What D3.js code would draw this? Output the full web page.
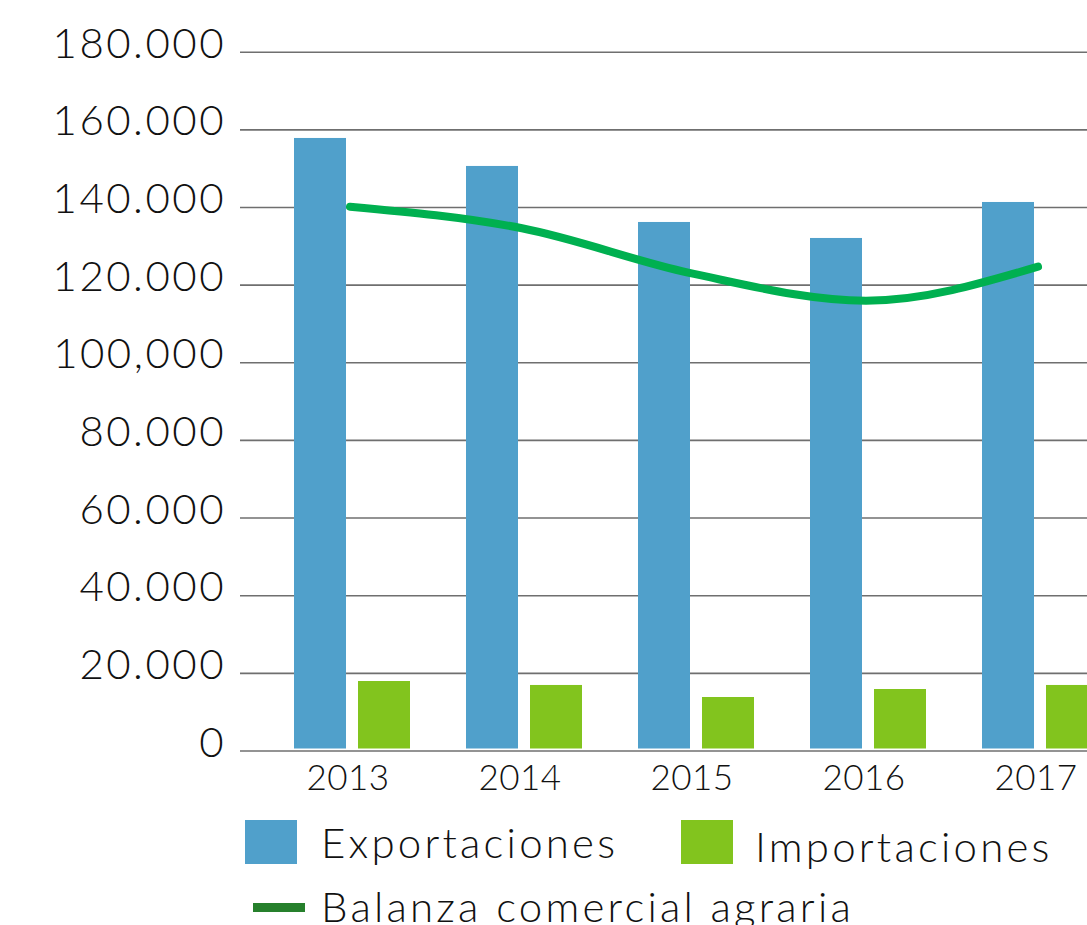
<!DOCTYPE html>
<html>
<head>
<meta charset="utf-8">
<script src="https://cdn.jsdelivr.net/npm/d3@7"></script>
<style>
  body { margin: 0; background: #fff; }
  svg { display: block; font-family: "Lato", "Open Sans", sans-serif; font-weight: 300; }
  .grid line { stroke: #6f6f6f; stroke-width: 1.6; }
  .grid text { fill: #111; font-size: 42px; letter-spacing: 2.5px; }
  .legend text { fill: #111; font-size: 42px; letter-spacing: 3.2px; }
</style>
</head>
<body>
<svg id="chart" width="1087" height="925"></svg>
<script>
let years = ["2013", "2014", "2015", "2016", "2017"];
let exportaciones = [157780, 150570, 136140, 132020, 141290];
let importaciones = [17900, 16880, 13780, 15840, 16880];
let balanza = [140080, 134520, 122750, 115870, 124630];
let tickValues = [0, 20000, 40000, 60000, 80000, 100000, 120000, 140000, 160000, 180000];
let tickLabels = ["0", "20.000", "40.000", "60.000", "80.000", "100,000", "120.000", "140.000", "160.000", "180.000"];
let seriesNames = ["Exportaciones", "Importaciones", "Balanza comercial agraria"];
let colors = { exp: "#50a0cb", imp: "#82c41e", line: "#00b050", lineKey: "#26802c" };

let svg = d3.select("#chart");

let y = d3.scaleLinear().domain([0, 180000]).range([750.5, 51.7]);

let x = d3.scaleBand()
  .domain(years)
  .range([266, 1126])
  .paddingInner(0.3256)
  .paddingOuter(0.1628);

let x1 = d3.scaleBand()
  .domain(["exp", "imp"])
  .range([0, x.bandwidth()])
  .paddingInner(0.1875);

// gridlines + y labels
let yAxis = d3.axisLeft(y)
  .tickValues(tickValues)
  .tickFormat((d, i) => tickLabels[i])
  .tickSize(-(1087 - 240))
  .tickPadding(14);

let g = svg.append("g")
  .attr("class", "grid")
  .attr("transform", "translate(240,0)")
  .call(yAxis)
  .attr("font-family", null)
  .attr("font-size", null);
g.select(".domain").remove();
g.selectAll("text").attr("dy", "5.5");

// bars
let groups = svg.append("g")
  .selectAll("g")
  .data(years)
  .enter()
  .append("g")
    .attr("transform", d => "translate(" + x(d) + ",0)");

groups.append("rect")
  .attr("x", x1("exp"))
  .attr("width", x1.bandwidth())
  .attr("y", (d, i) => y(exportaciones[i]))
  .attr("height", (d, i) => y(0) - y(exportaciones[i]) - 2)
  .attr("fill", colors.exp);

groups.append("rect")
  .attr("x", x1("imp"))
  .attr("width", x1.bandwidth())
  .attr("y", (d, i) => y(importaciones[i]))
  .attr("height", (d, i) => y(0) - y(importaciones[i]) - 2)
  .attr("fill", colors.imp);

// balanza line
let line = d3.line()
  .x((d, i) => x(years[i]) + x.bandwidth() / 2 - 2)
  .y(d => y(d))
  .curve(d3.curveMonotoneX);

svg.append("path")
  .datum(balanza)
  .attr("d", line)
  .attr("fill", "none")
  .attr("stroke", colors.line)
  .attr("stroke-width", 8)
  .attr("stroke-linecap", "round");

// x labels
svg.append("g")
  .selectAll("text")
  .data(years)
  .enter()
  .append("text")
    .attr("x", d => x(d) + x.bandwidth() / 2 - 4)
    .attr("y", y(0) + 39)
    .attr("text-anchor", "middle")
    .attr("fill", "#111")
    .style("font-size", "35px")
    .style("letter-spacing", "0.5px")
    .text(d => d);

// legend
let legend = svg.append("g").attr("class", "legend");
legend.append("rect").attr("x", 245).attr("y", 820).attr("width", 52).attr("height", 44).attr("fill", colors.exp);
legend.append("text").attr("x", 321).attr("y", 858).text(seriesNames[0]);
legend.append("rect").attr("x", 681).attr("y", 820).attr("width", 52).attr("height", 44).attr("fill", colors.imp);
legend.append("text").attr("x", 755).attr("y", 862).text(seriesNames[1]);
legend.append("rect").attr("x", 253).attr("y", 903).attr("width", 52).attr("height", 9).attr("fill", colors.lineKey);
legend.append("text").attr("x", 321).attr("y", 922).text(seriesNames[2]);
</script>
</body>
</html>
